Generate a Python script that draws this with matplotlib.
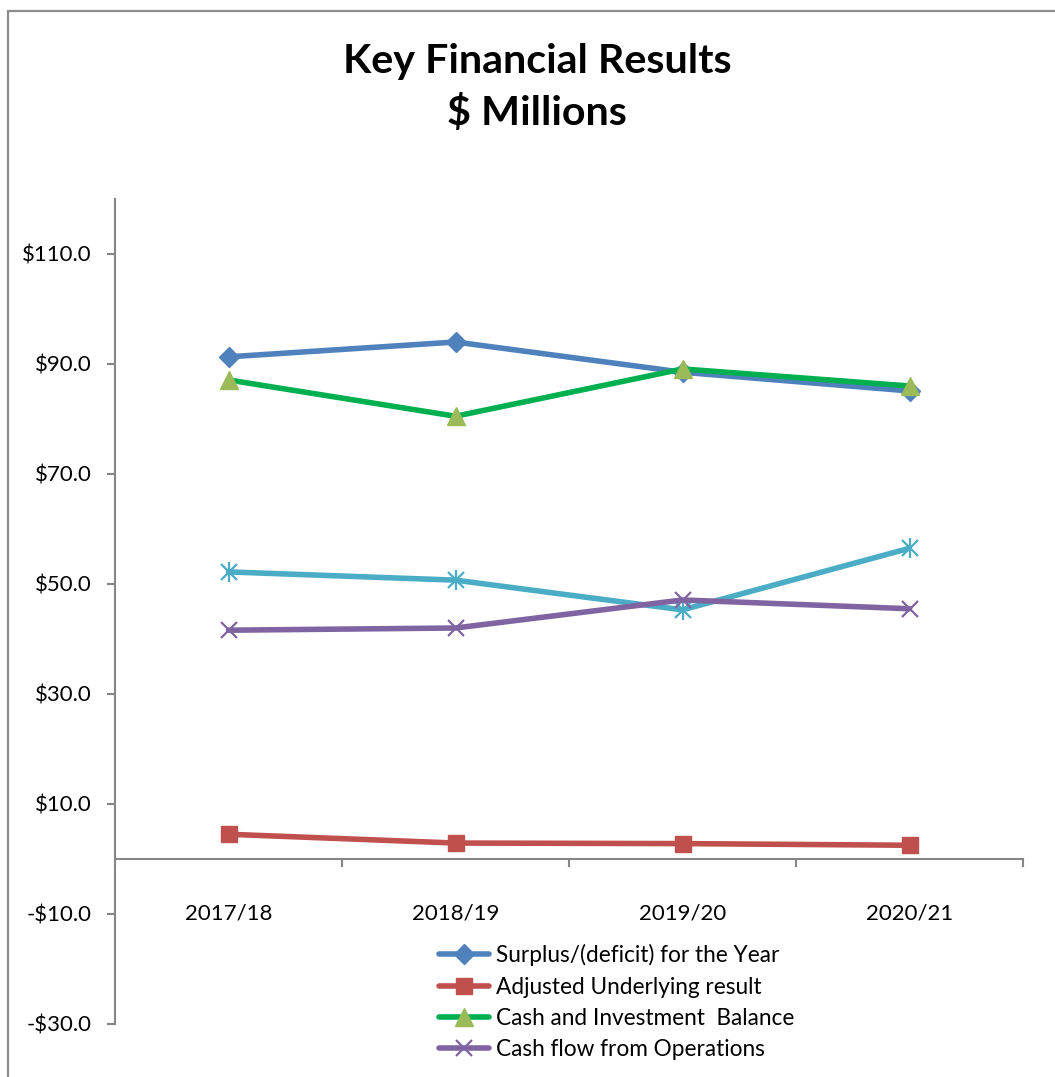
import matplotlib
matplotlib.use("Agg")
import matplotlib.pyplot as plt
from matplotlib.patches import Rectangle
from matplotlib.ticker import FuncFormatter, FixedLocator

categories = ["2017/18", "2018/19", "2019/20", "2020/21"]
surplus = [91.3, 94.0, 88.5, 85.1]
adjusted = [4.5, 2.9, 2.8, 2.5]
cash_invest = [87.1, 80.5, 89.1, 86.0]
cash_flow_ops = [41.6, 42.0, 47.1, 45.5]
other_series = [52.2, 50.7, 45.3, 56.5]
y_ticks = [-30, -10, 10, 30, 50, 70, 90, 110]

FONT = "Lato"
plt.rcParams["font.family"] = [FONT, "DejaVu Sans"]

W, H = 1055, 1077
fig = plt.figure(figsize=(W / 100, H / 100), dpi=100)
ax = fig.add_axes([115 / W, 1 - 1024 / H, (1023 - 115) / W, (1024 - 199) / H])

# chart border (cut off on right and bottom)
fig.patches.append(Rectangle((7.5 / W, -0.05), 1.2, 1 - 11 / H + 0.05,
                             transform=fig.transFigure, fill=False,
                             edgecolor="#8c8c8c", linewidth=1.6))

x = list(range(len(categories)))
lw = 4.0
ax.plot(x, other_series, color="#4BACC6", lw=lw, marker="x", ms=12, mew=1.6,
        solid_capstyle="round", zorder=3)
ax.plot(x, other_series, color="#4BACC6", lw=0, marker="|", ms=14, mew=1.6, zorder=3)
ax.plot(x, cash_flow_ops, color="#8064A2", lw=lw, marker="x", ms=11, mew=1.6,
        solid_capstyle="round", label="Cash flow from Operations", zorder=3)
ax.plot(x, cash_invest, color="#00B050", lw=lw, marker="^", ms=13,
        mfc="#9BBB59", mec="#9BBB59", solid_capstyle="round",
        label="Cash and Investment  Balance", zorder=4)
ax.plot(x, adjusted, color="#C0504D", lw=lw, marker="s", ms=12,
        mfc="#C0504D", mec="#C0504D", solid_capstyle="round",
        label="Adjusted Underlying result", zorder=3)
ax.plot(x, surplus, color="#4F81BD", lw=lw, marker="D", ms=10,
        mfc="#4F81BD", mec="#4F81BD", solid_capstyle="round",
        label="Surplus/(deficit) for the Year", zorder=3)

ax.set_xlim(-0.5, 3.5)
ax.set_ylim(-30, 120)

for s in ["top", "right"]:
    ax.spines[s].set_visible(False)
ax.spines["left"].set_color("#868686")
ax.spines["left"].set_linewidth(1.5)
ax.spines["bottom"].set_color("#868686")
ax.spines["bottom"].set_linewidth(1.5)
ax.spines["bottom"].set_position(("data", 0))
ax.spines["left"].set_bounds(-30, 120)

ax.yaxis.set_major_locator(FixedLocator(y_ticks))
ax.yaxis.set_major_formatter(FuncFormatter(
    lambda v, p: ("-$%.1f" % abs(v)) if v < 0 else ("$%.1f" % v)))
ax.tick_params(axis="y", length=6, width=1.5, color="#868686", pad=11,
               labelsize=16, labelcolor="black")

ax.set_xticks(x)
ax.set_xticklabels(categories)
ax.set_xticks([-0.5, 0.5, 1.5, 2.5, 3.5], minor=True)
ax.tick_params(axis="x", which="major", length=0, pad=32, labelsize=16,
               labelcolor="black")
ax.tick_params(axis="x", which="minor", length=6, width=1.5, color="#868686",
               direction="out")

fig.text(537 / W, 1 - 62 / H, "Key Financial Results", ha="center", va="center",
         fontsize=29.7, fontweight="bold")
fig.text(537 / W, 1 - 113 / H, "$ Millions", ha="center", va="center",
         fontsize=29.7, fontweight="bold")

handles, labels = ax.get_legend_handles_labels()
order = [3, 2, 1, 0]
leg = fig.legend([handles[i] for i in order], [labels[i] for i in order],
                 loc="upper left", bbox_to_anchor=(428 / W, 1 - 933 / H),
                 frameon=False, fontsize=16.3, handlelength=2.2,
                 handletextpad=0.3, labelspacing=0.45, borderpad=0)

fig.savefig("out.png", dpi=100)
